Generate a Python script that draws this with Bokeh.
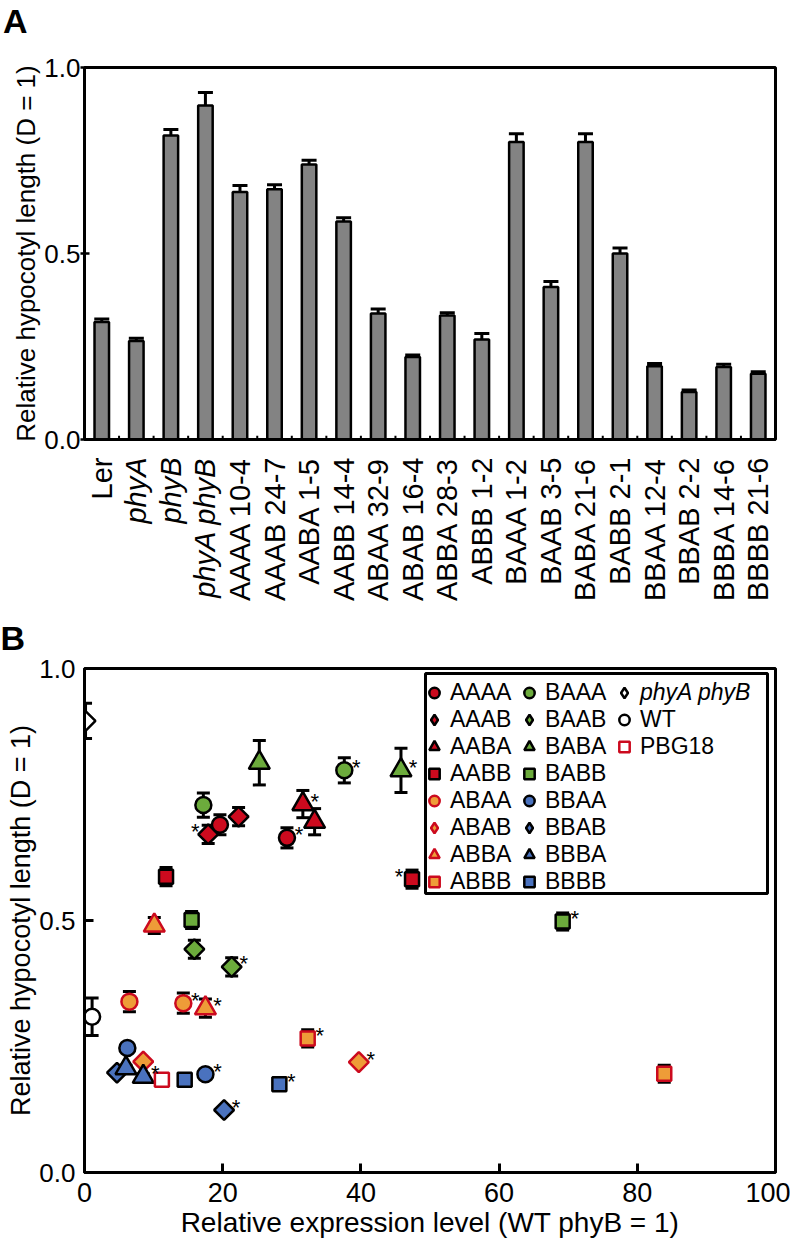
import math
import numpy as np
from bokeh.plotting import figure
from bokeh.models import (ColumnDataSource, Whisker, TeeHead, FixedTicker, Title, Div,
                          Legend, LegendItem, BoxAnnotation, Range1d, PrintfTickFormatter)
from bokeh.layouts import column
from bokeh.core.properties import value, field
from bokeh.embed import file_html
from bokeh.resources import INLINE

FONT = "Liberation Sans"

# ---------------- Panel A data ----------------
lines = ["Ler", "phyA", "phyB", "phyA phyB", "AAAA 10-4", "AAAB 24-7", "AABA 1-5", "AABB 14-4",
         "ABAA 32-9", "ABAB 16-4", "ABBA 28-3", "ABBB 1-2", "BAAA 1-2", "BAAB 3-5", "BABA 21-6",
         "BABB 2-1", "BBAA 12-4", "BBAB 2-2", "BBBA 14-6", "BBBB 21-6"]
italic_lines = ["phyA", "phyB", "phyA phyB"]
bar_len = [0.316, 0.265, 0.817, 0.898, 0.665, 0.673, 0.739, 0.586, 0.339, 0.222,
           0.333, 0.269, 0.800, 0.410, 0.800, 0.500, 0.197, 0.128, 0.195, 0.177]
bar_err = [0.008, 0.007, 0.016, 0.035, 0.018, 0.012, 0.012, 0.010, 0.012, 0.005,
           0.008, 0.016, 0.022, 0.015, 0.022, 0.015, 0.007, 0.005, 0.007, 0.005]
y_ticks = [0.0, 0.5, 1.0]

# ---------------- Panel B data ----------------
groups = ["AAAA", "AAAB", "AABA", "AABB", "ABAA", "ABAB", "ABBA", "ABBB",
          "BAAA", "BAAB", "BABA", "BABB", "BBAA", "BBAB", "BBBA", "BBBB"]
expr_level = {
    "AAAA": [19.6, 29.3], "AAAB": [17.9, 22.3], "AABA": [31.6, 33.3], "AABB": [11.8, 47.4],
    "ABAA": [6.5, 14.3], "ABAB": [8.5, 39.7], "ABBA": [10.1, 17.5], "ABBB": [32.3, 83.9],
    "BAAA": [17.2, 37.6], "BAAB": [15.9, 21.3], "BABA": [25.3, 45.8], "BABB": [15.5, 69.2],
    "BBAA": [6.2, 17.5], "BBAB": [4.7, 20.2], "BBBA": [6.0, 8.5], "BBBB": [14.5, 28.2],
    "phyA phyB": [0.15], "WT": [1.1], "PBG18": [11.2],
}
hyp_length = {
    "AAAA": [0.690, 0.664], "AAAB": [0.671, 0.706], "AABA": [0.731, 0.696], "AABB": [0.587, 0.582],
    "ABAA": [0.339, 0.336], "ABAB": [0.220, 0.219], "ABBA": [0.490, 0.326], "ABBB": [0.266, 0.196],
    "BAAA": [0.729, 0.798], "BAAB": [0.443, 0.408], "BABA": [0.813, 0.798], "BABB": [0.501, 0.498],
    "BBAA": [0.247, 0.195], "BBAB": [0.198, 0.124], "BBBA": [0.207, 0.190], "BBBB": [0.184, 0.175],
    "phyA phyB": [0.896], "WT": [0.309], "PBG18": [0.184],
}
hyp_err = {
    "AAAA": [0.020, 0.020], "AAAB": [0.018, 0.018], "AABA": [0.027, 0.026], "AABB": [0.018, 0.018],
    "ABAA": [0.020, 0.020], "ABAB": [0.006, 0.006], "ABBA": [0.016, 0.018], "ABBB": [0.017, 0.017],
    "BAAA": [0.024, 0.025], "BAAB": [0.018, 0.018], "BABA": [0.044, 0.044], "BABB": [0.017, 0.017],
    "BBAA": [0.006, 0.006], "BBAB": [0.005, 0.005], "BBBA": [0.006, 0.006], "BBBB": [0.005, 0.005],
    "phyA phyB": [0.035], "WT": [0.037], "PBG18": [0.0],
}
# side of the significance asterisk: "r" right, "l" left, "" none
star_side = {
    "AAAA": ["", "r"], "AAAB": ["l", ""], "AABA": ["r", ""], "AABB": ["", "l"],
    "ABAA": ["", "r"], "ABAB": ["", "r"], "ABBA": ["", "r"], "ABBB": ["r", ""],
    "BAAA": ["", "r"], "BAAB": ["", "r"], "BABA": ["", "r"], "BABB": ["", "r"],
    "BBAA": ["", "r"], "BBAB": ["", "r"], "BBBA": ["", "r"], "BBBB": ["", "r"],
    "phyA phyB": [""], "WT": [""], "PBG18": [""],
}

RED, ORANGE, GREEN, BLUE = "#CC0A1E", "#EE9C38", "#6CAB3C", "#4A72BE"
fill_by_prefix = {"AA": RED, "AB": ORANGE, "BA": GREEN, "BB": BLUE}
line_by_prefix = {"AA": "black", "AB": RED, "BA": "black", "BB": "black"}
marker_by_suffix = {"AA": "circle", "AB": "square", "BA": "triangle", "BB": "square"}
legend_marker_by_suffix = {"AA": "circle", "AB": "diamond", "BA": "triangle", "BB": "square"}
size_by_suffix = {"AA": 16, "AB": 14, "BA": 21, "BB": 14}
angle_by_suffix = {"AA": 0.0, "AB": math.pi / 4, "BA": 0.0, "BB": 0.0}

W = 790
LEFT_A, RIGHT_A = 84, 11
NAN = np.array([np.nan])


def style_axis(ax, tick_size, label_size):
    ax.major_label_text_font = FONT
    ax.major_label_text_font_size = tick_size
    ax.major_label_text_color = "black"
    ax.axis_label_text_font = FONT
    ax.axis_label_text_font_size = label_size
    ax.axis_label_text_font_style = "normal"
    ax.axis_label_text_color = "black"
    ax.minor_tick_line_color = None
    ax.axis_line_width = 3
    ax.major_tick_line_width = 3


# ================= Header with panel letter A =================
header = Div(text="A", width=W, height=40, margin=(0, 0, 0, 0),
             styles={"font-family": FONT, "font-size": "34px", "font-weight": "bold",
                     "line-height": "34px", "padding-top": "4px", "padding-left": "3px",
                     "color": "black"})

# ================= Panel A (bars) =================
pA = figure(width=W, height=415, x_range=Range1d(0, len(lines)), y_range=Range1d(0, 1),
            output_backend="svg", toolbar_location=None,
            min_border_left=LEFT_A, min_border_right=RIGHT_A, min_border_top=27,
            min_border_bottom=16)
pA.grid.visible = False
pA.outline_line_color = "black"
pA.outline_line_width = 3

centers = [i + 0.5 for i in range(len(lines))]
bounds = list(range(1, len(lines)))
srcA = ColumnDataSource(dict(
    x=centers,
    top=bar_len,
    up=[v + e for v, e in zip(bar_len, bar_err)],
    lo=[v - e for v, e in zip(bar_len, bar_err)],
))
pA.vbar(x="x", top="top", bottom=0, width=0.42, source=srcA,
        fill_color="#838383", line_color="black", line_width=2.5)
pA.add_layout(Whisker(base="x", upper="up", lower="lo", source=srcA,
                      line_color="black", line_width=3,
                      upper_head=TeeHead(size=15, line_width=3, line_color="black"),
                      lower_head=TeeHead(size=15, line_width=3, line_color="black")))
tick_len = 0.01
pA.segment(x0=bounds, y0=[0] * len(bounds), x1=bounds, y1=[tick_len] * len(bounds),
           line_color="black", line_width=2)

xa = pA.below[0]
style_axis(xa, "26px", "26px")
xa.ticker = FixedTicker(ticks=[])
xa.major_tick_in = 0
xa.major_tick_out = 0
xa.major_label_standoff = 0

ya = pA.yaxis[0]
style_axis(ya, "26px", "26px")
ya.ticker = FixedTicker(ticks=y_ticks)
ya.formatter = PrintfTickFormatter(format="%.1f")
ya.major_label_standoff = 0
ya.major_tick_in = 5
ya.major_tick_out = 4
ya.major_tick_line_width = 2.5
ya.axis_label = "Relative hypocotyl length (D = 1)"
ya.axis_label_standoff = 0

# ================= Category labels strip =================
pC = figure(width=W, height=148, x_range=pA.x_range, y_range=Range1d(-1, 0),
            output_backend="svg", toolbar_location=None,
            x_axis_location=None, y_axis_location=None,
            min_border_left=LEFT_A, min_border_right=RIGHT_A, min_border_top=0,
            min_border_bottom=0)
pC.grid.visible = False
pC.outline_line_color = None
srcLab = ColumnDataSource(dict(
    x=centers,
    y=[0] * len(lines),
    text=lines,
    style=["italic" if t in italic_lines else "normal" for t in lines],
))
pC.text(x="x", y="y", text="text", source=srcLab, angle=math.pi / 2, y_offset=2,
        text_align="right", text_baseline="middle", text_font=value(FONT),
        text_font_size="29px", text_font_style=field("style"), text_color="black")

# ================= Panel B (scatter) =================
pB = figure(width=W, height=639, x_range=Range1d(0, 100), y_range=Range1d(0, 1),
            output_backend="svg", toolbar_location=None,
            min_border_left=LEFT_A, min_border_right=15, min_border_top=65,
            min_border_bottom=70)
pB.grid.visible = False
pB.outline_line_color = "black"
pB.outline_line_width = 3
pB.title = Title(text="B", align="left", offset=-84, standoff=23, text_font=FONT,
                 text_font_size="34px", text_font_style="bold", text_color="black")

all_names = groups + ["phyA phyB", "WT", "PBG18"]
wx, wup, wlo = [], [], []
for g in all_names:
    for xv, yv, ev in zip(expr_level[g], hyp_length[g], hyp_err[g]):
        if ev > 0:
            wx.append(xv); wup.append(yv + ev); wlo.append(yv - ev)
srcW = ColumnDataSource(dict(x=wx, up=wup, lo=wlo))
pB.add_layout(Whisker(base="x", upper="up", lower="lo", source=srcW, level="underlay",
                      line_color="black", line_width=3,
                      upper_head=TeeHead(size=13, line_width=3, line_color="black"),
                      lower_head=TeeHead(size=13, line_width=3, line_color="black")))

legend_r = {}
for g in groups:
    pre, suf = g[:2], g[2:]
    style = dict(fill_color=fill_by_prefix[pre], line_color=line_by_prefix[pre], line_width=2.5)
    pB.scatter(expr_level[g], hyp_length[g], marker=marker_by_suffix[suf],
               size=size_by_suffix[suf], angle=angle_by_suffix[suf], **style)
    # legend key (no visible point)
    legend_r[g] = pB.scatter(NAN, NAN, marker=legend_marker_by_suffix[suf], size=10, **style)
pB.scatter(expr_level["phyA phyB"], hyp_length["phyA phyB"], marker="square",
           angle=math.pi / 4, size=14, fill_color="white", line_color="black", line_width=2.5)
legend_r["phyA phyB"] = pB.scatter(NAN, NAN, marker="diamond", size=10, fill_color="white",
                                   line_color="black", line_width=2.5)
legend_r["WT"] = pB.scatter(expr_level["WT"], hyp_length["WT"], marker="circle", size=16,
                            fill_color="white", line_color="black", line_width=2.5)
legend_r["PBG18"] = pB.scatter(expr_level["PBG18"], hyp_length["PBG18"], marker="square",
                               size=14, fill_color="white", line_color=RED, line_width=2.5)

sx_r, sy_r, sx_l, sy_l = [], [], [], []
for g in all_names:
    for xv, yv, s in zip(expr_level[g], hyp_length[g], star_side[g]):
        if s == "r":
            sx_r.append(xv); sy_r.append(yv)
        elif s == "l":
            sx_l.append(xv); sy_l.append(yv)
pB.text(sx_r, sy_r, text=["*"] * len(sx_r), x_offset=12, y_offset=-3,
        text_font=value(FONT), text_font_size="22px", text_align="center",
        text_baseline="middle", text_color="black")
pB.text(sx_l, sy_l, text=["*"] * len(sx_l), x_offset=-13, y_offset=-3,
        text_font=value(FONT), text_font_size="22px", text_align="center",
        text_baseline="middle", text_color="black")

bx = pB.xaxis[0]
style_axis(bx, "27px", "28px")
bx.ticker = FixedTicker(ticks=[0, 20, 40, 60, 80, 100])
bx.major_label_standoff = 10
bx.major_tick_in = 9
bx.major_tick_out = 0
bx.axis_label = "Relative expression level (WT phyB = 1)"
bx.axis_label_standoff = 2

by = pB.yaxis[0]
style_axis(by, "26px", "27px")
by.ticker = FixedTicker(ticks=y_ticks)
by.formatter = PrintfTickFormatter(format="%.1f")
by.major_label_standoff = 9
by.major_tick_in = 9
by.major_tick_out = 0
by.axis_label = "Relative hypocotyl length (D = 1)"
by.axis_label_standoff = 0

leg_style = dict(glyph_width=26, glyph_height=27, label_height=27, label_width=66,
                 label_standoff=3, spacing=0, padding=0, margin=0,
                 border_line_alpha=0, background_fill_alpha=0,
                 label_text_font=FONT, label_text_font_size="23px",
                 label_text_color="black")
L1 = Legend(items=[LegendItem(label=g, renderers=[legend_r[g]]) for g in groups],
            nrows=8, location=(337, 277), **leg_style)
L2 = Legend(items=[LegendItem(label="phyA phyB", renderers=[legend_r["phyA phyB"]])],
            location=(527, 466), label_text_font_style="italic", **leg_style)
L3 = Legend(items=[LegendItem(label=n, renderers=[legend_r[n]]) for n in ["WT", "PBG18"]],
            location=(527, 412), **leg_style)
for L in (L1, L2, L3):
    pB.add_layout(L)
pB.add_layout(BoxAnnotation(left=341, right=683, top=499, bottom=279,
                            left_units="screen", right_units="screen",
                            top_units="screen", bottom_units="screen",
                            fill_alpha=0, line_color="black", line_alpha=1.0,
                            line_width=3))

layout = column(header, pA, pC, pB)
open("out.html", "w").write(file_html(layout, INLINE))
